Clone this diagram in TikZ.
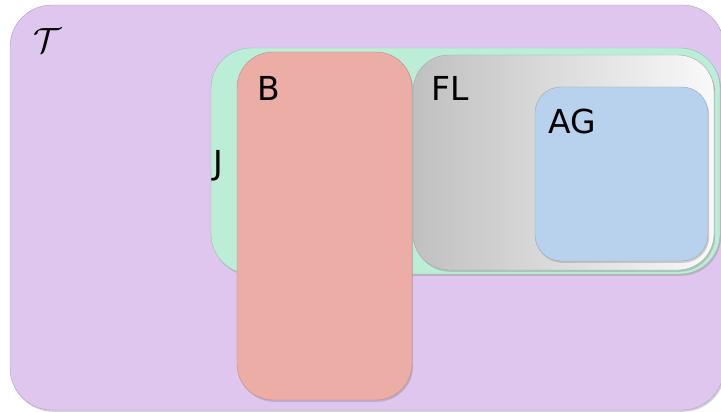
\documentclass[tikz,border=0pt]{standalone}
\usepackage{fontspec}
\setsansfont{DejaVu Sans}
\usetikzlibrary{shadows}
\definecolor{tcol}{RGB}{223,198,238}
\definecolor{jcol}{RGB}{188,238,215}
\definecolor{bcol}{RGB}{236,173,166}
\definecolor{agcol}{RGB}{184,210,237}
\definecolor{fll}{RGB}{192,192,192}
\definecolor{flr}{RGB}{249,249,249}
\tikzset{
  setbox/.style={draw=#1!80!black, line width=0.4pt, fill=#1,
    drop shadow={shadow xshift=1.2pt, shadow yshift=-1.8pt, opacity=0.35}},
  lbl/.style={font=\sffamily\fontsize{33}{38}\selectfont, inner sep=0pt, anchor=base west}
}
\begin{document}
\begin{tikzpicture}[x=1pt,y=-1pt]
\useasboundingbox (0,0) rectangle (721,412);
\clip (0,0) rectangle (721,412);
% T
\draw[setbox=tcol, rounded corners=42pt] (10,5) rectangle (724,410);
\node[inner sep=0pt, anchor=base west] (tl) at (33,53) {\scalebox{3.5}{$\mathcal{T}$}};
% J
\draw[setbox=jcol, rounded corners=40pt] (211,48) rectangle (720,274);
\node[lbl] (jl) at (213,174) {J};
% FL
\draw[left color=fll, right color=flr, draw=gray!70, line width=0.4pt,
  drop shadow={shadow xshift=1.2pt, shadow yshift=-1.8pt, opacity=0.35},
  rounded corners=36pt] (413,55) rectangle (714,270);
\node[lbl] (fl) at (431,101) {FL};
% AG
\draw[setbox=agcol, rounded corners=26pt] (535,87) rectangle (708,261);
\node[lbl] (ag) at (548,133) {AG};
% B
\draw[setbox=bcol, rounded corners=36pt] (237,52) rectangle (412,400);
\node[lbl] (bl) at (257,101) {B};
\end{tikzpicture}
\end{document}
